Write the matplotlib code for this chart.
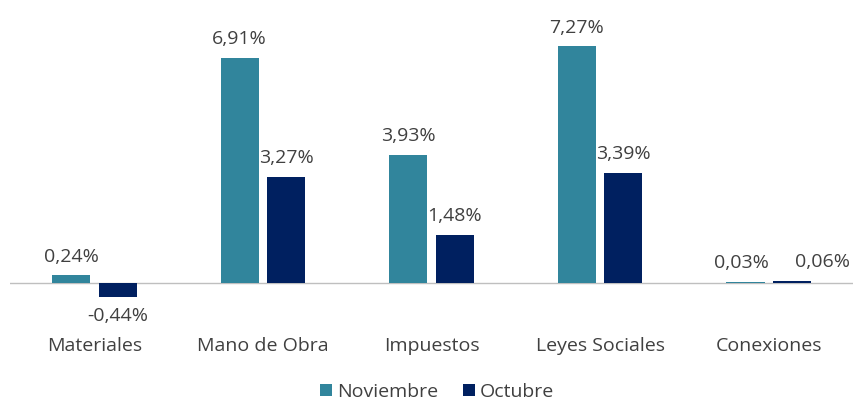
import matplotlib.pyplot as plt
import matplotlib.transforms as mtransforms
import numpy as np

plt.rcParams['font.family'] = ['Open Sans', 'DejaVu Sans']

categorias = ['Materiales', 'Mano de Obra', 'Impuestos', 'Leyes Sociales', 'Conexiones']
noviembre = [0.24, 6.91, 3.93, 7.27, 0.03]
octubre = [-0.44, 3.27, 1.48, 3.39, 0.06]
series = ['Noviembre', 'Octubre']
colores = ['#31859C', '#002060']

# desplazamiento horizontal de las etiquetas en Conexiones (evitar solape)
dx_nov = [0, 0, 0, 0, -3]
dx_oct = [0, 0, 0, 0, 22]

FS = 14
fig = plt.figure(figsize=(8.57, 4.01), dpi=100)
ax = fig.add_axes([0.0117, 0.172, 0.9837, 0.772])

x = np.arange(len(categorias))
w = 0.226
off = 0.138

b1 = ax.bar(x - off, noviembre, w, color=colores[0], label=series[0])
b2 = ax.bar(x + off, octubre, w, color=colores[1], label=series[1])

def fmt(v):
    return f"{v:.2f}%".replace('.', ',')

for i, v in enumerate(noviembre):
    ax.annotate(fmt(v), (x[i] - off, v), xytext=(dx_nov[i], 7 if v >= 0 else -7),
                textcoords='offset points', ha='center',
                va='bottom' if v >= 0 else 'top', fontsize=FS, color='#404040')
for i, v in enumerate(octubre):
    ax.annotate(fmt(v), (x[i] + off, v), xytext=(dx_oct[i], 7 if v >= 0 else -7),
                textcoords='offset points', ha='center',
                va='bottom' if v >= 0 else 'top', fontsize=FS, color='#404040')

ax.axhline(0, color='#BFBFBF', lw=1, zorder=0)
ax.set_xlim(-0.5, len(categorias) - 0.5)
ax.set_ylim(-1.5, 8)
for s in ax.spines.values():
    s.set_visible(False)
ax.set_xticks([])
ax.set_yticks([])

trans = mtransforms.blended_transform_factory(ax.transData, fig.transFigure)
for i, c in enumerate(categorias):
    ax.text(x[i], 0.138, c, transform=trans, ha='center', va='center',
            fontsize=FS, color='#404040')

fig.legend(handles=[b1, b2], loc='center', bbox_to_anchor=(0.51, 0.022),
           ncol=2, frameon=False, fontsize=FS, handlelength=0.6, handleheight=0.6,
           handletextpad=0.25, columnspacing=1.3, labelcolor='#404040')

fig.savefig('out.png', dpi=100)
